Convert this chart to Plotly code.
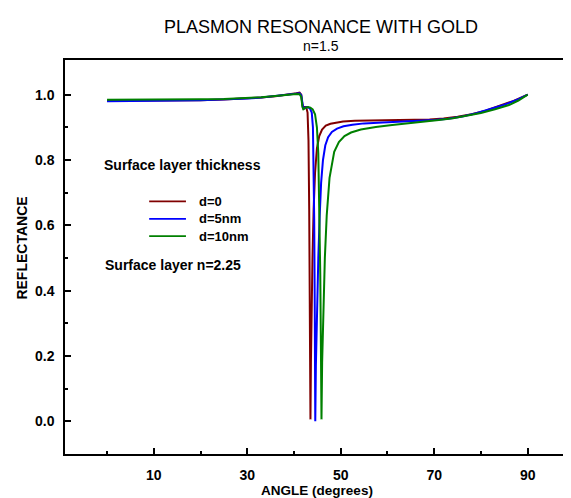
import plotly.graph_objects as go

# ---------------- data ----------------
angle_d0 = [0, 5, 10, 15, 20, 25, 30, 33, 36, 38, 39.5, 40.5, 41.2, 41.55, 41.8, 42.0, 42.25, 42.6, 42.9, 43.1,
            43.25, 43.35, 43.45, 43.52, 43.62, 43.75, 43.95, 44.2, 44.5, 44.9, 45.4, 46.0, 46.8, 47.8, 49.0, 50.5,
            53, 57, 62, 66, 69, 72, 75, 78, 81, 84, 87, 90]
refl_d0 = [0.981, 0.981, 0.982, 0.982, 0.983, 0.985, 0.988, 0.991, 0.995, 0.998, 1.001, 1.004, 1.006, 1.0, 0.968,
           0.956, 0.962, 0.962, 0.945, 0.86, 0.65, 0.45, 0.2, 0.006, 0.18, 0.33, 0.5, 0.65, 0.76, 0.835, 0.873,
           0.893, 0.905, 0.911, 0.915, 0.918, 0.920, 0.921, 0.921, 0.922, 0.924, 0.927, 0.932, 0.940, 0.951,
           0.966, 0.981, 1.0]

angle_d5 = [0, 5, 10, 15, 20, 25, 30, 33, 36, 38, 39.5, 40.5, 41.2, 41.55, 41.8, 42.0, 42.4, 42.9, 43.4, 43.8,
            44.05, 44.2, 44.32, 44.44, 44.55, 44.68, 44.9, 45.2, 45.5, 45.8, 46.2, 46.7, 47.3, 48.1, 49.2, 50.6,
            52.5, 55, 59, 63, 67, 70, 73, 76, 79, 82, 85, 88, 90]
refl_d5 = [0.980, 0.980, 0.981, 0.982, 0.983, 0.985, 0.988, 0.991, 0.995, 0.998, 1.001, 1.003, 1.004, 0.998, 0.966,
           0.956, 0.961, 0.962, 0.958, 0.945, 0.90, 0.80, 0.62, 0.35, 0.0, 0.17, 0.33, 0.5, 0.63, 0.73, 0.80,
           0.845, 0.870, 0.886, 0.896, 0.903, 0.908, 0.912, 0.915, 0.917, 0.919, 0.922, 0.926, 0.933, 0.943,
           0.955, 0.969, 0.986, 1.0]

angle_d10 = [0, 5, 10, 15, 20, 25, 30, 33, 36, 38, 39.5, 40.5, 41.2, 41.55, 41.8, 42.0, 42.5, 43.0, 43.5, 44.0,
             44.5, 44.9, 45.2, 45.45, 45.62, 45.76, 45.88, 46.02, 46.25, 46.6, 47.0, 47.6, 48.6, 49.6, 50.8, 52.2,
             54.3, 57.5, 61, 64.5, 68, 71, 74, 77, 80, 83, 86, 88, 90]
refl_d10 = [0.984, 0.984, 0.984, 0.985, 0.986, 0.987, 0.990, 0.992, 0.996, 0.999, 1.001, 1.002, 1.001, 0.993, 0.962,
            0.955, 0.960, 0.962, 0.960, 0.955, 0.94, 0.90, 0.82, 0.66, 0.45, 0.22, 0.006, 0.18, 0.35, 0.5, 0.63,
            0.745, 0.825, 0.855, 0.873, 0.884, 0.893, 0.901, 0.907, 0.912, 0.917, 0.922, 0.928, 0.935, 0.944,
            0.955, 0.968, 0.982, 1.0]

series_names = ["d=0", "d=5nm", "d=10nm"]
series_colors = ["#800000", "#0000ff", "#008000"]

x_major_ticks = [10, 30, 50, 70, 90]
x_minor_ticks = [0, 20, 40, 60, 80]
y_major_ticks = [0.0, 0.2, 0.4, 0.6, 0.8, 1.0]
y_minor_ticks = [0.1, 0.3, 0.5, 0.7, 0.9]

title_text = "PLASMON RESONANCE WITH GOLD"
subtitle_text = "n=1.5"
legend_title = "Surface layer thickness"
layer_note = "Surface layer n=2.25"
x_title = "ANGLE (degrees)"
y_title = "REFLECTANCE"

# ---------------- figure ----------------
FONT = "Liberation Sans, Arial, sans-serif"
fig = go.Figure()
for xs, ys, name, col in zip([angle_d0, angle_d5, angle_d10],
                             [refl_d0, refl_d5, refl_d10],
                             series_names, series_colors):
    fig.add_trace(go.Scatter(x=xs, y=ys, mode="lines", name=name,
                             line=dict(color=col, width=2), showlegend=False))

# hand-made legend (line samples + labels) in paper coordinates
leg_y = [0.641, 0.597, 0.553]
for name, col, yy in zip(series_names, series_colors, leg_y):
    fig.add_shape(type="line", xref="paper", yref="paper", x0=0.167, x1=0.240, y0=yy, y1=yy,
                  line=dict(color=col, width=1.8))
    fig.add_annotation(text="<b>%s</b>" % name, xref="paper", yref="paper", x=0.261, y=yy,
                       xanchor="left", yanchor="middle", showarrow=False,
                       font=dict(family=FONT, size=13, color="black"))

fig.add_annotation(text="<b>%s</b>" % legend_title, xref="paper", yref="paper", x=0.073, y=0.734,
                   xanchor="left", yanchor="middle", showarrow=False,
                   font=dict(family=FONT, size=14, color="black"))
fig.add_annotation(text="<b>%s</b>" % layer_note, xref="paper", yref="paper", x=0.076, y=0.480,
                   xanchor="left", yanchor="middle", showarrow=False,
                   font=dict(family=FONT, size=14, color="black"))

fig.add_annotation(text=title_text, xref="paper", yref="paper", x=0.508, y=1.085,
                   xanchor="center", yanchor="middle", showarrow=False,
                   font=dict(family=FONT, size=18, color="black"))
fig.add_annotation(text=subtitle_text, xref="paper", yref="paper", x=0.508, y=1.0343,
                   xanchor="center", yanchor="middle", showarrow=False,
                   font=dict(family=FONT, size=14, color="black"))

# y-axis title as rotated text
fig.add_annotation(text="<b>%s</b>" % y_title, xref="paper", yref="paper", x=-0.086, y=0.523,
                   xanchor="center", yanchor="middle", textangle=-90, showarrow=False,
                   font=dict(family=FONT, size=14, color="black"))

axis_common = dict(showline=True, linecolor="black", linewidth=1.5, mirror=True,
                   showgrid=False, zeroline=False, ticks="inside", tickcolor="black",
                   tickwidth=1.5, ticklen=6,
                   tickfont=dict(family=FONT, size=14, color="black", weight="bold"))

fig.update_layout(
    width=571, height=498,
    margin=dict(l=57, r=8, t=52, b=52),
    paper_bgcolor="white", plot_bgcolor="white",
    font=dict(family=FONT, color="black"),
    xaxis=dict(range=[-9, 98.84], tickmode="array", tickvals=x_major_ticks,
               minor=dict(tickmode="array", tickvals=x_minor_ticks, ticks="inside",
                          ticklen=3, tickcolor="black", tickwidth=1.5),
               ticklabelstandoff=7,
               title=dict(text="<b>%s</b>" % x_title, standoff=3,
                          font=dict(family=FONT, size=13.5, color="black")),
               **axis_common),
    yaxis=dict(range=[-0.1, 1.106], tickmode="array", tickvals=y_major_ticks, tickformat=".1f",
               minor=dict(tickmode="array", tickvals=y_minor_ticks, ticks="inside",
                          ticklen=3, tickcolor="black", tickwidth=1.5),
               ticklabelstandoff=6,
               **axis_common),
)

fig.write_html("out.html")
